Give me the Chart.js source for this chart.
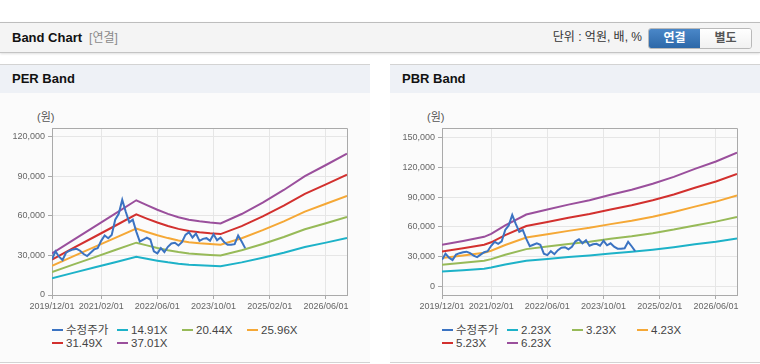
<!DOCTYPE html>
<html>
<head>
<meta charset="utf-8">
<script src="https://cdn.jsdelivr.net/npm/chart.js@4.4.1/dist/chart.umd.min.js"></script>
<style>
    body { margin: 0; width: 760px; height: 364px; overflow: hidden; background: #fff; position: relative;
           font-family: "Liberation Sans", Arial, "Noto Sans CJK KR", sans-serif; }
    .top { position: absolute; left: 0; top: 22px; width: 760px; height: 29px; background: #f4f4f4;
           border-top: 1px solid #bdbdbd; border-bottom: 1px solid #c4c4c4; box-shadow: 0 1px 2px rgba(0,0,0,.12); }
    .top .ttl { position: absolute; left: 12px; top: 0; line-height: 29px; font-size: 13px; font-weight: bold; color: #111; }
    .top .ttl span { color: #8a8a8a; font-weight: normal; font-size: 12px; margin-left: 7px; }
    .unit { position: absolute; right: 118px; top: 0; line-height: 29px; font-size: 12px; color: #333; }
    .btns { position: absolute; left: 648px; top: 5px; height: 19px; width: 102px; border: 1px solid #b9b9b9; border-radius: 3px; overflow: hidden; }
    .btns div { float: left; width: 51px; height: 19px; line-height: 19px; text-align: center; font-size: 12px; font-weight: bold; }
    .btns .on { background: linear-gradient(#4a87c8, #2d68a8); color: #fff; }
    .btns .off { background: linear-gradient(#ffffff, #f1f1f1); color: #555; }
    .panel { position: absolute; top: 64px; width: 370px; height: 297px; background: #fbfbfb;
             border-top: 1px solid #d3d3d3; border-bottom: 1px solid #d3d3d3; }
    .panel .hd { height: 28px; line-height: 28px; background: #eef1f6; padding-left: 12px; font-size: 13px; font-weight: bold; color: #111; }
    .panel .body { position: relative; height: 269px; }
    .panel canvas { position: absolute; left: 0; top: 0; }
    .won { position: absolute; left: 37px; top: 17px; font-size: 11px; color: #555; line-height: 14px; }
    .legend { position: absolute; left: 52px; top: 231px; width: 270px; font-size: 11.5px; color: #444; line-height: 13px; }
    .legend div { display: inline-block; width: 65px; white-space: nowrap; }
    .legend i { display: inline-block; width: 11px; height: 2px; vertical-align: middle; margin-right: 3px; position: relative; top: -1px; }
</style>
</head>
<body>
<div class="top">
    <div class="ttl">Band Chart<span>[연결]</span></div>
    <div class="unit">단위 : 억원, 배, %</div>
    <div class="btns"><div class="on">연결</div><div class="off">별도</div></div>
</div>

<div class="panel" style="left:0">
    <div class="hd">PER Band</div>
    <div class="body">
        <div class="won">(원)</div>
        <canvas id="perChart" width="370" height="226"></canvas>
        <div class="legend" id="perLegend"></div>
    </div>
</div>

<div class="panel" style="left:390px">
    <div class="hd">PBR Band</div>
    <div class="body">
        <div class="won">(원)</div>
        <canvas id="pbrChart" width="370" height="226"></canvas>
        <div class="legend" id="pbrLegend"></div>
    </div>
</div>

<script>
// months counted from 2019/12
var xTickMonths = [0, 14, 30, 46, 62, 78];
var xTickLabels = ['2019/12/01', '2021/02/01', '2022/06/01', '2023/10/01', '2025/02/01', '2026/06/01'];

// 수정주가, monthly from 2019/12
var price = [27000, 33000, 29000, 26500, 32000, 33500, 34500, 35000, 33500, 31000,
             29500, 32000, 34500, 35500, 41000, 45000, 43000, 45500, 57000, 61500,
             72000, 63000, 55000, 57000, 48000, 40500, 42000, 43500, 42000, 33000,
             31500, 35500, 32500, 36500, 39000, 39500, 37500, 40000, 45500, 47500,
             43500, 46500, 41000, 42500, 43000, 41000, 46000, 41500, 43500, 40000,
             38000, 38000, 38500, 45000, 40500, 35500];

var perLabels = ['14.91X', '20.44X', '25.96X', '31.49X', '37.01X'];
var perMonths = [0, 6, 12, 18, 24, 27, 30, 33, 36, 39, 42, 45, 48, 54, 60, 66, 72, 78, 84];
var per1491 = [12690, 16760, 20790, 24820, 28890, 27390, 25980, 24740, 23690, 22960, 22480, 22120, 21840, 24700, 28200, 32030, 36260, 39640, 43110];
var per2044 = [17400, 22970, 28500, 34020, 39600, 37560, 35620, 33910, 32470, 31480, 30820, 30320, 29930, 33850, 38660, 43910, 49710, 54340, 59090];
var per2596 = [22100, 29180, 36190, 43210, 50290, 47700, 45240, 43070, 41240, 39980, 39140, 38510, 38020, 43000, 49100, 55760, 63130, 69020, 75050];
var per3149 = [26800, 35400, 43900, 52410, 61010, 57860, 54880, 52240, 50030, 48500, 47480, 46710, 46120, 52160, 59560, 67640, 76580, 83720, 91040];
var per3701 = [31500, 41600, 51600, 61600, 71700, 68000, 64500, 61400, 58800, 57000, 55800, 54900, 54200, 61300, 70000, 79500, 90000, 98400, 107000];
var perTicks = [0, 30000, 60000, 90000, 120000];

var pbrLabels = ['2.23X', '3.23X', '4.23X', '5.23X', '6.23X'];
var pbrMonths = [0, 6, 12, 14, 18, 24, 30, 36, 42, 48, 54, 60, 66, 72, 78, 84];
var pbr223 = [15030, 16390, 17900, 18970, 22010, 25950, 27740, 29530, 31140, 33110, 34900, 37050, 39550, 42420, 45100, 48320];
var pbr323 = [21780, 23750, 25920, 27480, 31890, 37590, 40180, 42770, 45110, 47960, 50550, 53660, 57290, 61440, 65330, 69990];
var pbr423 = [28520, 31100, 33950, 35990, 41760, 49230, 52620, 56010, 59070, 62800, 66200, 70270, 75030, 80460, 85550, 91660];
var pbr523 = [35260, 38450, 41970, 44490, 51630, 60860, 65060, 69260, 73040, 77650, 81850, 86890, 92760, 99480, 105780, 113330];
var pbr623 = [42000, 45800, 50000, 53000, 61500, 72500, 77500, 82500, 87000, 92500, 97500, 103500, 110500, 118500, 126000, 135000];
var pbrTicks = [0, 30000, 60000, 90000, 120000, 150000];

var lineColors = ['#3b73c2', '#1db2c8', '#97ba58', '#f5a836', '#d2302e', '#9a4f9c'];

Chart.defaults.font.family = '"Liberation Sans", Arial, sans-serif';

// top + right border of the plot
var frame = {
    id: 'frame',
    afterDatasetsDraw: function (chart) {
        var a = chart.chartArea, c = chart.ctx;
        c.save();
        c.strokeStyle = '#aaa';
        c.lineWidth = 1;
        c.beginPath();
        c.moveTo(Math.round(a.left) + 0.5, Math.round(a.top) + 0.5);
        c.lineTo(Math.round(a.right) + 0.5, Math.round(a.top) + 0.5);
        c.lineTo(Math.round(a.right) + 0.5, Math.round(a.bottom) + 0.5);
        c.stroke();
        c.restore();
    }
};

function bandChart(canvasId, legendId, months, bands, labels, yMin, yMax, yTicks) {
    var datasets = [{
        label: '수정주가',
        data: price.map(function (v, i) { return { x: i, y: v }; }),
        borderColor: lineColors[0],
        borderWidth: 2
    }];
    for (var k = 0; k < bands.length; k++) {
        datasets.push({
            label: labels[k],
            data: bands[k].map(function (v, i) { return { x: months[i], y: v }; }),
            borderColor: lineColors[k + 1],
            borderWidth: 2
        });
    }

    var chart = new Chart(document.getElementById(canvasId), {
        type: 'line',
        data: { datasets: datasets },
        options: {
            responsive: false,
            animation: false,
            layout: { padding: { left: 12, right: 23, top: 35, bottom: 0 } },
            elements: { point: { radius: 0 }, line: { tension: 0 } },
            plugins: { legend: { display: false }, tooltip: { enabled: false } },
            scales: {
                x: {
                    type: 'linear', min: 0, max: 84,
                    afterBuildTicks: function (s) { s.ticks = xTickMonths.map(function (v) { return { value: v }; }); },
                    afterFit: function (s) { s.height = 24; },
                    ticks: {
                        autoSkip: false, maxRotation: 0, padding: 2, color: '#666', font: { size: 9 },
                        callback: function (v, i) { return xTickLabels[i]; }
                    },
                    grid: { color: '#e6e6e6', tickColor: '#aaa', tickLength: 4 },
                    border: { color: '#aaa' }
                },
                y: {
                    min: yMin, max: yMax,
                    afterBuildTicks: function (s) { s.ticks = yTicks.map(function (v) { return { value: v }; }); },
                    afterFit: function (s) { s.width = 40; },
                    ticks: {
                        padding: 3, color: '#666', font: { size: 9 },
                        callback: function (v) { return v.toLocaleString('en-US'); }
                    },
                    grid: { color: '#e6e6e6', tickColor: '#aaa', tickLength: 4 },
                    border: { color: '#aaa' }
                }
            }
        },
        plugins: [frame]
    });

    // legend in fixed columns like the original
    var html = '';
    chart.data.datasets.forEach(function (d) {
        html += '<div><i style="background:' + d.borderColor + '"></i>' + d.label + '</div>';
    });
    document.getElementById(legendId).innerHTML = html;
    return chart;
}

bandChart('perChart', 'perLegend', perMonths, [per1491, per2044, per2596, per3149, per3701], perLabels, 0, 126400, perTicks);
bandChart('pbrChart', 'pbrLegend', pbrMonths, [pbr223, pbr323, pbr423, pbr523, pbr623], pbrLabels, -8700, 159800, pbrTicks);
</script>
</body>
</html>
